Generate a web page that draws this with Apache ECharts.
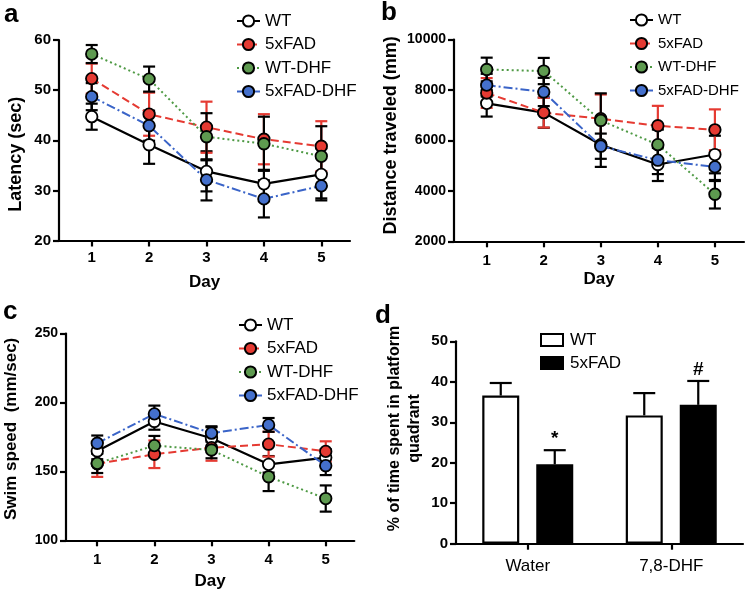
<!DOCTYPE html>
<html>
<head>
<meta charset="utf-8">
<script src="https://cdn.jsdelivr.net/npm/echarts@6/dist/echarts.min.js"></script>
<style>html,body{margin:0;padding:0;background:#fff}#c{width:746px;height:594px}</style>
</head>
<body>
<div id="c"></div>
<script>
// ---------- data ----------
const days = [1, 2, 3, 4, 5];
const groupNames = ['WT', '5xFAD', 'WT-DHF', '5xFAD-DHF'];

// a: Latency (sec)
const latWT = [44.7, 39.1, 33.8, 31.3, 33.2];
const latWTErr = [2.6, 3.8, 4.0, 2.8, 5.2];
const lat5x = [52.3, 45.2, 42.6, 40.2, 38.8];
const lat5xErr = [3.0, 4.3, 5.1, 5.0, 5.0];
const latWTD = [57.2, 52.2, 40.7, 39.3, 36.8];
const latWTDErr = [1.8, 2.5, 4.7, 5.4, 6.0];
const lat5xD = [48.7, 42.9, 32.1, 28.3, 30.9];
const lat5xDErr = [2.7, 3.0, 4.1, 3.7, 2.5];

// b: Distance traveled (mm)
const distWT = [7470, 7100, 5830, 5045, 5440];
const distWTErr = [525, 600, 880, 655, 745];
const dist5x = [7880, 7100, 6860, 6580, 6420];
const dist5xErr = [590, 590, 960, 790, 810];
const distWTD = [8810, 8750, 6790, 5830, 3865];
const distWTDErr = [470, 520, 1075, 600, 565];
const dist5xD = [8190, 7920, 5770, 5215, 4950];
const dist5xDErr = [450, 560, 500, 550, 560];

// c: Swim speed (mm/sec)
const spdWT = [164.8, 186.2, 174.0, 155.1, 160.0];
const spdWTErr = [6, 6, 8, 6, 6];
const spd5x = [155.5, 162.4, 167.2, 169.7, 164.5];
const spd5xErr = [9.5, 10, 9.5, 9, 7.3];
const spdWTD = [155.8, 168.7, 165.5, 146.1, 130.3];
const spdWTDErr = [7, 7, 6, 10.4, 9.5];
const spd5xD = [170.4, 191.7, 177.7, 183.7, 154.1];
const spd5xDErr = [5.6, 6, 5, 5, 6.8];

// d: % of time spent in platform quadrant
const treatments = ['Water', '7,8-DHF'];
const quadWT = [36.6, 31.7];
const quadWTErr = [3.1, 5.5];
const quad5x = [19.6, 34.3];
const quad5xErr = [3.5, 5.9];
const quad5xMarks = ['*', '#'];

// ---------- styles ----------
const FONT = 'Liberation Sans, Arial, Helvetica, sans-serif';
const fills = ['#ffffff', '#e53a32', '#5e9a50', '#4470cc'];
const lineColors = ['#000000', '#e53a32', '#4f9a45', '#3a64c8'];
const lineTypes = ['solid', [8, 4], [2, 3], [9, 3, 2, 3]];
const lineWidths = [2.2, 2, 2, 2];
const errColors = ['#000000', '#e53a32', '#000000', '#000000'];

function errRender(color) {
  return function (params, api) {
    const x = api.value(0), y = api.value(1), e = api.value(2);
    const t = api.coord([x, y + e]);
    const b = api.coord([x, y - e]);
    const hw = 6;
    const st = { stroke: color, lineWidth: 2.2 };
    return {
      type: 'group',
      children: [
        { type: 'line', shape: { x1: t[0], y1: t[1], x2: b[0], y2: b[1] }, style: st },
        { type: 'line', shape: { x1: t[0] - hw, y1: t[1], x2: t[0] + hw, y2: t[1] }, style: st },
        { type: 'line', shape: { x1: b[0] - hw, y1: b[1], x2: b[0] + hw, y2: b[1] }, style: st }
      ]
    };
  };
}

const series = [];
function addLinePanel(idx, means, errs) {
  for (let i = 0; i < 4; i++) {
    series.push({
      type: 'custom', xAxisIndex: idx, yAxisIndex: idx, silent: true, z: 2,
      renderItem: errRender(errColors[i]),
      data: days.map((d, j) => [d, means[i][j], errs[i][j]])
    });
  }
  for (let i = 0; i < 4; i++) {
    series.push({
      name: groupNames[i], type: 'line', xAxisIndex: idx, yAxisIndex: idx, z: 3,
      data: days.map((d, j) => [d, means[i][j]]),
      symbol: 'circle', symbolSize: 11.5, silent: true,
      itemStyle: { color: fills[i], borderColor: '#000', borderWidth: 1.8 },
      lineStyle: { color: lineColors[i], width: lineWidths[i], type: lineTypes[i] },
      emphasis: { disabled: true }
    });
  }
}
addLinePanel(0, [latWT, lat5x, latWTD, lat5xD], [latWTErr, lat5xErr, latWTDErr, lat5xDErr]);
addLinePanel(1, [distWT, dist5x, distWTD, dist5xD], [distWTErr, dist5xErr, distWTDErr, dist5xDErr]);
addLinePanel(2, [spdWT, spd5x, spdWTD, spd5xD], [spdWTErr, spd5xErr, spdWTDErr, spd5xDErr]);

// bar panel
const BAR_W = 37, BAR_GAP = 17;
series.push({
  name: 'WT ', type: 'bar', xAxisIndex: 3, yAxisIndex: 3, barWidth: BAR_W, barGap: (BAR_GAP / BAR_W * 100) + '%',
  data: quadWT, itemStyle: { color: '#fff', borderColor: '#000', borderWidth: 2.2 }, silent: true
});
series.push({
  name: '5xFAD ', type: 'bar', xAxisIndex: 3, yAxisIndex: 3, barWidth: BAR_W,
  data: quad5x, itemStyle: { color: '#000', borderColor: '#000', borderWidth: 2.2 }, silent: true
});
function barErrRender(offset) {
  return function (params, api) {
    const c = api.coord([api.value(0), api.value(1)]);
    const t = api.coord([api.value(0), api.value(1) + api.value(2)]);
    const x = c[0] + offset;
    const st = { stroke: '#000', lineWidth: 2.2 };
    return {
      type: 'group',
      children: [
        { type: 'line', shape: { x1: x, y1: c[1], x2: x, y2: t[1] }, style: st },
        { type: 'line', shape: { x1: x - 11, y1: t[1], x2: x + 11, y2: t[1] }, style: st }
      ]
    };
  };
}
series.push({
  type: 'custom', xAxisIndex: 3, yAxisIndex: 3, silent: true, z: 3,
  renderItem: barErrRender(-(BAR_W + BAR_GAP) / 2),
  data: treatments.map((t, i) => [i, quadWT[i], quadWTErr[i]])
});
series.push({
  type: 'custom', xAxisIndex: 3, yAxisIndex: 3, silent: true, z: 3,
  renderItem: function (params, api) {
    const off = (BAR_W + BAR_GAP) / 2;
    const g = barErrRender(off)(params, api);
    const i = params.dataIndex;
    const t = api.coord([api.value(0), api.value(1) + api.value(2)]);
    g.children.push({
      type: 'text',
      style: { text: quad5xMarks[i], x: t[0] + off, y: t[1] - 2, align: 'center', verticalAlign: 'bottom',
        font: 'bold 19px ' + FONT, fill: '#000' }
    });
    return g;
  },
  data: treatments.map((t, i) => [i, quad5x[i], quad5xErr[i]])
});

// ---------- axes ----------
const axisLineStyle = { show: true, lineStyle: { color: '#000', width: 2.2 } };
const tickStyle = { show: true, length: 6, lineStyle: { color: '#000', width: 2.2 } };
function dayAxis(idx, min, max, gap, margin) {
  return {
    type: 'value', gridIndex: idx, min: min, max: max,
    name: 'Day', nameLocation: 'middle', nameGap: gap,
    nameTextStyle: { fontFamily: FONT, fontWeight: 'bold', fontSize: 17, color: '#000' },
    axisLine: axisLineStyle,
    axisTick: Object.assign({ customValues: days }, tickStyle),
    axisLabel: { customValues: days, fontFamily: FONT, fontWeight: 'bold', fontSize: 15, color: '#000', margin: margin },
    splitLine: { show: false }
  };
}
function valAxis(idx, min, max, interval, name, gap, fs, nameFs, pad) {
  return {
    type: 'value', gridIndex: idx, min: min, max: max, interval: interval,
    name: name, nameLocation: 'middle', nameGap: gap,
    nameTextStyle: { fontFamily: FONT, fontWeight: 'bold', fontSize: nameFs, color: '#000', padding: pad, lineHeight: nameFs + 4 },
    axisLine: axisLineStyle, axisTick: tickStyle,
    axisLabel: { fontFamily: FONT, fontWeight: 'bold', fontSize: fs, color: '#000', margin: 8, formatter: v => String(v) },
    splitLine: { show: false }
  };
}

function makeLegend(left, top, fs) {
  return {
    left: left, top: top,
    orient: 'vertical', selectedMode: false, itemWidth: 23, itemHeight: 14, itemGap: 5.5,
    textStyle: { fontFamily: FONT, fontSize: fs, color: '#000', lineHeight: 18 },
    data: groupNames
  };
}

const option = {
  animation: false,
  backgroundColor: '#fff',
  grid: [
    { left: 59, top: 40, width: 291, height: 200.5 },
    { left: 454, top: 39.5, width: 290, height: 201.8 },
    { left: 59, top: 333.5, width: 295.3, height: 206.8 },
    { left: 456, top: 341.3, width: 287, height: 202.4 }
  ],
  xAxis: [
    dayAxis(0, 0.43, 5.5, 33, 10),
    dayAxis(1, 0.427, 5.51, 30, 12),
    dayAxis(2, 0.453, 5.5, 33, 12),
    {
      type: 'category', gridIndex: 3, data: treatments,
      axisLine: axisLineStyle,
      axisTick: Object.assign({ alignWithLabel: true }, tickStyle),
      axisLabel: { fontFamily: FONT, fontSize: 17, color: '#000', margin: 14 }
    }
  ],
  yAxis: [
    valAxis(0, 20, 60, 10, 'Latency (sec)', 32, 15, 18, [0, 28, 0, 0]),
    valAxis(1, 2000, 10000, 2000, 'Distance traveled (mm)', 52, 14, 18, [0, 0, 0, 10]),
    valAxis(2, 100, 250, 50, 'Swim speed  (mm/sec)', 44, 14, 17, [0, 0, 0, 16]),
    valAxis(3, 0, 50, 10, '% of time spent in platform\nquadrant', 31, 15, 16, [0, 0, 0, 28])
  ],
  legend: [
    makeLegend(231, 7, 17),
    makeLegend(624, 6, 15),
    makeLegend(233, 311, 17)
  ],
  graphic: [
    { type: 'text', left: 4, top: 2, style: { text: 'a', font: 'bold 26px ' + FONT, fill: '#000' } },
    { type: 'text', left: 381, top: 0, style: { text: 'b', font: 'bold 26px ' + FONT, fill: '#000' } },
    { type: 'text', left: 3, top: 299, style: { text: 'c', font: 'bold 26px ' + FONT, fill: '#000' } },
    { type: 'text', left: 375, top: 303, style: { text: 'd', font: 'bold 26px ' + FONT, fill: '#000' } },
    { type: 'rect', shape: { x: 541, y: 334, width: 22, height: 12 }, style: { fill: '#fff', stroke: '#000', lineWidth: 2 } },
    { type: 'text', x: 570, y: 340, style: { text: 'WT', font: '17px ' + FONT, fill: '#000', verticalAlign: 'middle' } },
    { type: 'rect', shape: { x: 541, y: 357, width: 22, height: 12 }, style: { fill: '#000', stroke: '#000', lineWidth: 2 } },
    { type: 'text', x: 570, y: 363, style: { text: '5xFAD', font: '17px ' + FONT, fill: '#000', verticalAlign: 'middle' } }
  ],
  series: series
};

const chart = echarts.init(document.getElementById('c'), null, { renderer: 'canvas' });
chart.setOption(option);
</script>
</body>
</html>
